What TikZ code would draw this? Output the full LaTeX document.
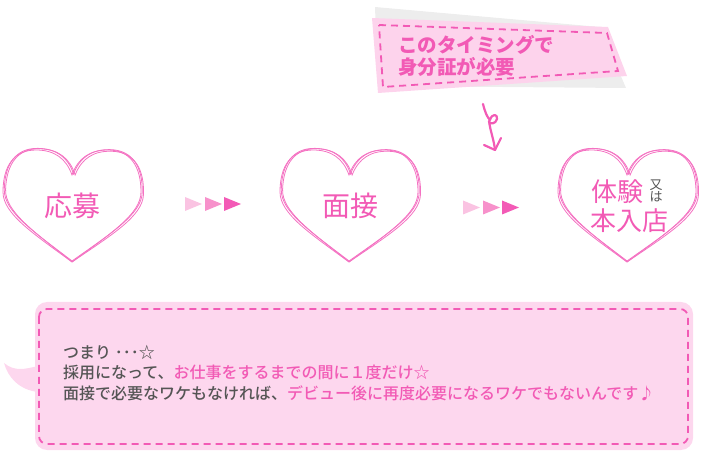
\documentclass[tikz,border=0pt]{standalone}
\usepackage{fontspec}
\usetikzlibrary{arrows.meta,shapes}
\newfontfamily\jpfont{Noto Sans CJK JP}
\newfontfamily\jpmedium{Noto Sans CJK JP Medium}
\definecolor{heartpink}{HTML}{F472C2}
\definecolor{textpink}{HTML}{F25AB5}
\definecolor{boxpink}{HTML}{FDD7EE}
\definecolor{tagpink}{HTML}{FDD3EC}
\definecolor{tagshadow}{HTML}{EDEDED}
\definecolor{textgray}{HTML}{555555}
\definecolor{tri1}{HTML}{FAC3E2}
\definecolor{tri2}{HTML}{F791CB}
\definecolor{tri3}{HTML}{F35AB6}
\tikzstyle{heart line}=[draw=heartpink,line width=0.8pt]
\tikzstyle{stage}=[font=\jpfont\fontsize{28}{30}\selectfont,text=textpink,inner sep=0pt]
\tikzstyle{dashline}=[draw=textpink,line width=1.8pt,dash pattern=on 7pt off 5pt]
\tikzstyle{curl}=[draw=textpink,line width=2.2pt,line cap=round,line join=round]
\tikzset{lovebox/.pic={
    \foreach \dx/\dy/\rot in {0/0/0, 2/1/-1, 4/0/-2}
    \draw[heart line,xshift=\dx,yshift=\dy,rotate=\rot]
        (0,25) .. controls (-6,8) and (-18,0) .. (-36,0)
        .. controls (-58,0) and (-69,16) .. (-69,42)
        .. controls (-69,64) and (-38,84) .. (0,112)
        .. controls (38,84) and (69,64) .. (69,42)
        .. controls (69,16) and (58,0) .. (36,0)
        .. controls (18,0) and (6,8) .. (0,25) -- cycle;
}}

\begin{document}
\begin{tikzpicture}[x=1pt,y=-1pt]
    \useasboundingbox (0,0) rectangle (702,470);
    % Draw the three hearts
    \foreach \pos/\name in {72/apply, 349/interview, 627/trial}
        \pic (\name) at (\pos,150) {lovebox};
    \node[stage] (applytext) at (72,206) {応募};
    \node[stage] (interviewtext) at (350,206) {面接};
    \node[stage,font=\jpfont\fontsize{26}{28}\selectfont] (trialtext) at (617,192) {体験};
    \node[stage,font=\jpfont\fontsize{26}{28}\selectfont] (jointext) at (629,221) {本入店};
    \node[text=textgray,font=\jpfont\fontsize{13}{12}\selectfont,inner sep=0pt,align=center] (ortext) at (656,191) {又\\は};
    % Small triangles between the steps
    \foreach \x/\y/\c in {185/204/tri1, 205/204/tri2, 224/204/tri3, 463/207.5/tri1, 483/207.5/tri2, 502/207.5/tri3}
        \fill[\c] (\x,\y-7) -- (\x+17,\y) -- (\x,\y+7) -- cycle;
    % The tag at the top
    \fill[tagshadow] (375,7) -- (600,27) -- (626,88) -- (378,86) -- cycle;
    \fill[tagpink] (372,18) -- (608,27) -- (627,76) -- (378,93) -- cycle;
    \draw[dashline] (379,25) -- (607,33) -- (618,71) -- (383,87) -- cycle;
    \node[font=\jpfont\fontsize{19.5}{21.5}\selectfont\bfseries,text=textpink,align=left,anchor=west,inner sep=0pt] (tagtext) at (398,56) {このタイミングで\\身分証が必要};
    % Curly arrow down to the third heart
    \coordinate (curlstart) at (483,104);
    \coordinate (curlend) at (495,150);
    \draw[curl] (curlstart) .. controls (485,112) and (487,117) .. (490,120)
        .. controls (492,113) and (498,114) .. (497,119)
        .. controls (496,124) and (489,125) .. (489,121)
        .. controls (490,130) and (494,140) .. (curlend);
    \draw[curl] (curlend) -- ++(-11,-5);
    \draw[curl] (curlend) -- ++(6,-12);
    % The speech box at the bottom
    \fill[boxpink] (4,363) .. controls (15,372) and (25,369) .. (38,366) -- (38,392) .. controls (20,390) and (8,378) .. (4,363) -- cycle;
    \fill[boxpink,rounded corners=12pt] (35,302) rectangle (693,450);
    \draw[dashline,rounded corners=8pt] (39,309) rectangle (688,444);
    \node[font=\jpmedium\fontsize{16}{20.5}\selectfont,text=textgray,align=left,anchor=west,inner sep=0pt] (summary) at (63,373)
        {つまり ･･･☆\\
         採用になって、\textcolor{textpink}{お仕事をするまでの間に１度だけ☆}\\
         面接で必要なワケもなければ、\textcolor{textpink}{デビュー後に再度必要になるワケでもないんです♪}};
\end{tikzpicture}
\end{document}
